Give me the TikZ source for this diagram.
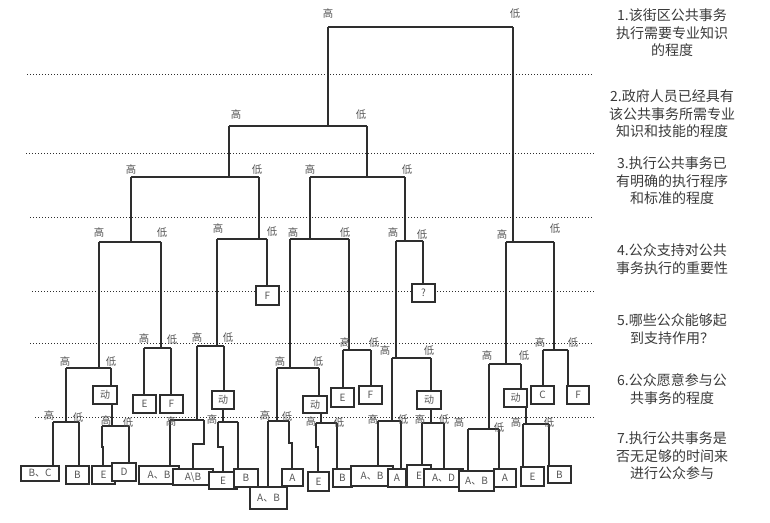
\documentclass[tikz,border=0pt]{standalone}
\usepackage{fontspec}
\setmainfont{Noto Sans CJK SC}
\usetikzlibrary{calc}
\definecolor{ink}{HTML}{2E2E2E}
\definecolor{txt}{HTML}{555555}
\definecolor{crt}{HTML}{3A3A3A}
\tikzset{
 ln/.style={draw=ink, line width=0.85pt},
 dots/.style={draw=ink, line width=0.75pt, dash pattern=on 0.75pt off 1.5pt},
 lab/.style={text=txt, font=\fontsize{7.8pt}{8pt}\selectfont, inner sep=0pt},
 bx/.style={draw=ink, line width=1pt, fill=white, inner sep=0pt, text=txt, font=\fontsize{7.5pt}{8pt}\selectfont},
 crit/.style={text=crt, font=\fontsize{10.5pt}{13.2pt}\selectfont, align=center, inner sep=0pt},
}
\newcommand\mybox[6]{\node[bx,minimum width={(#4-#2)*0.75pt},minimum height={(#5-#3)*0.75pt}] (#1) at ({(#2+#4)/2},{(#3+#5)/2}) {#6};}
\newcommand\mylab[4]{\node[lab] (#1) at (#2,#3) {#4};}
\begin{document}
\begin{tikzpicture}[x=0.75pt,y=-0.75pt]
\useasboundingbox (0,0) rectangle (770,522);
% dotted separators
\foreach \n/\xa/\yy in {1/27/74,2/26/153,3/30/217,4/32/291,5/30/343,6/35/417}{
  \coordinate (dl\n) at (\xa,\yy); \coordinate (dr\n) at (594,\yy);
  \draw[dots] (dl\n) -- (dr\n);}
% right-hand criteria
\node[crit] (t1) at (672,33) {1.该街区公共事务\\执行需要专业知识\\的程度};
\node[crit] (t2) at (672,114) {2.政府人员已经具有\\该公共事务所需专业\\知识和技能的程度};
\node[crit] (t3) at (672,181) {3.执行公共事务已\\有明确的执行程序\\和标准的程度};
\node[crit] (t4) at (672,259) {4.公众支持对公共\\事务执行的重要性};
\node[crit] (t5) at (672,329) {5.哪些公众能够起\\到支持作用？};
\node[crit] (t6) at (672,389) {6.公众愿意参与公\\共事务的程度};
\node[crit] (t7) at (672,456) {7.执行公共事务是\\否无足够的时间来\\进行公众参与};
% junction bars
\coordinate (S1-L) at (328,27); \coordinate (S1-R) at (513,27);
\coordinate (S2-L) at (229,126); \coordinate (S2-R) at (367,126);
\coordinate (S3a-L) at (131,177); \coordinate (S3a-R) at (259,177);
\coordinate (S3b-L) at (310,177); \coordinate (S3b-R) at (405,177);
\coordinate (S4a-L) at (99,242); \coordinate (S4a-R) at (161,242);
\coordinate (S4b-L) at (217,239); \coordinate (S4b-R) at (267,239);
\coordinate (S4c-L) at (290,239); \coordinate (S4c-R) at (349,239);
\coordinate (S4d-L) at (396,241); \coordinate (S4d-R) at (423,241);
\coordinate (S4e-L) at (506,242); \coordinate (S4e-R) at (554,242);
\coordinate (S5a-L) at (66,368); \coordinate (S5a-R) at (111,368);
\coordinate (S5b-L) at (144,348); \coordinate (S5b-R) at (171,348);
\coordinate (S5c-L) at (197,346); \coordinate (S5c-R) at (224,346);
\coordinate (S5d-L) at (277,368); \coordinate (S5d-R) at (319,368);
\coordinate (S5e-L) at (343,350); \coordinate (S5e-R) at (371,350);
\coordinate (S5f-L) at (392,358); \coordinate (S5f-R) at (431,358);
\coordinate (S5g-L) at (489,364); \coordinate (S5g-R) at (521,364);
\coordinate (S5h-L) at (543,350); \coordinate (S5h-R) at (568,350);
\coordinate (S6a-L) at (53,422); \coordinate (S6a-R) at (79,422);
\coordinate (S6b-L) at (102,426); \coordinate (S6b-R) at (129,426); \coordinate (S6b-T) at (112,426);
\coordinate (S6c-L) at (170,420); \coordinate (S6c-R) at (204,420);
\coordinate (S6d-L) at (218,422); \coordinate (S6d-R) at (238,422); \coordinate (S6d-T) at (223,422);
\coordinate (S6e-L) at (268,421); \coordinate (S6e-R) at (289,421);
\coordinate (S6f-L) at (316,423); \coordinate (S6f-R) at (337,423); \coordinate (S6f-T) at (321,423);
\coordinate (S6g-L) at (378,421); \coordinate (S6g-R) at (401,421);
\coordinate (S6h-L) at (422,423); \coordinate (S6h-R) at (444,423); \coordinate (S6h-T) at (431,423);
\coordinate (S6i-L) at (468,429); \coordinate (S6i-R) at (499,429);
\coordinate (S6j-L) at (523,424); \coordinate (S6j-R) at (549,424); \coordinate (S6j-T) at (526,424);
\foreach \s in {S1,S2,S3a,S3b,S4a,S4b,S4c,S4d,S4e,S5a,S5b,S5c,S5d,S5e,S5f,S5g,S5h,S6a,S6b,S6c,S6d,S6e,S6f,S6g,S6h,S6i,S6j}
  {\draw[ln] (\s-L) -- (\s-R);}
% boxes
\mybox{bF1}{256}{286}{279}{305}{F}
\mybox{bQ}{412}{284}{435}{302}{?}
\mybox{bM1}{93}{386}{117}{404}{动}
\mybox{bE1}{133}{395}{156}{413}{E}
\mybox{bF2}{160}{395}{183}{413}{F}
\mybox{bM2}{212}{391}{234}{409}{动}
\mybox{bM3}{303}{396}{327}{413}{动}
\mybox{bE7}{331}{388}{354}{407}{E}
\mybox{bF3}{359}{386}{382}{404}{F}
\mybox{bM4}{417}{391}{441}{409}{动}
\mybox{bM5}{504}{389}{527}{407}{动}
\mybox{bC}{531}{386}{554}{404}{C}
\mybox{bF4}{567}{386}{589}{404}{F}
\mybox{bBC}{21}{466}{59}{481}{B、C}
\mybox{bB1}{66}{466}{89}{484}{B}
\mybox{bE2}{92}{466}{115}{484}{E}
\mybox{bD}{112}{463}{136}{481}{D}
\mybox{bAB1}{139}{466}{179}{484}{A、B}
\mybox{bAnB}{173}{469}{213}{485}{A\textbackslash B}
\mybox{bE3}{209}{472}{237}{489}{E}
\mybox{bB2}{234}{469}{258}{487}{B}
\mybox{bAB2}{250}{487}{287}{509}{A、B}
\mybox{bA1}{282}{469}{303}{486}{A}
\mybox{bE4}{308}{472}{329}{491}{E}
\mybox{bB3}{333}{469}{352}{487}{B}
\mybox{bAB3}{351}{466}{393}{486}{A、B}
\mybox{bA2}{388}{469}{406}{487}{A}
\mybox{bE5}{407}{465}{431}{487}{E}
\mybox{bAD}{424}{469}{463}{487}{A、D}
\mybox{bAB4}{459}{471}{494}{491}{A、B}
\mybox{bA3}{494}{469}{516}{487}{A}
\mybox{bE6}{521}{467}{544}{486}{E}
\mybox{bB4}{548}{466}{571}{483}{B}
% verticals
\draw[ln] (S1-L) -- (S1-L |- S2-L);
\draw[ln] (S1-R) -- (S1-R |- S4e-L);
\draw[ln] (S2-L) -- (S2-L |- S3a-L);
\draw[ln] (S2-R) -- (S2-R |- S3b-L);
\draw[ln] (S3a-L) -- (S3a-L |- S4a-L);
\draw[ln] (S3a-R) -- (S3a-R |- S4b-L);
\draw[ln] (S3b-L) -- (S3b-L |- S4c-L);
\draw[ln] (S3b-R) -- (S3b-R |- S4d-L);
\draw[ln] (S4a-L) -- (S4a-L |- S5a-L);
\draw[ln] (S4a-R) -- (S4a-R |- S5b-L);
\draw[ln] (S4b-L) -- (S4b-L |- S5c-L);
\draw[ln] (S4b-R) -- (S4b-R |- bF1.north);
\draw[ln] (S4c-L) -- (S4c-L |- S5d-L);
\draw[ln] (S4c-R) -- (S4c-R |- S5e-L);
\draw[ln] (S4d-L) -- (S4d-L |- S5f-L);
\draw[ln] (S4d-R) -- (S4d-R |- bQ.north);
\draw[ln] (S4e-L) -- (S4e-L |- S5g-L);
\draw[ln] (S4e-R) -- (S4e-R |- S5h-L);
\draw[ln] (S5a-L) -- (S5a-L |- S6a-L);
\draw[ln] (S5a-R) -- (S5a-R |- bM1.north);
\draw[ln] (S6b-T |- bM1.south) -- (S6b-T);
\draw[ln] (S5b-L) -- (S5b-L |- bE1.north);
\draw[ln] (S5b-R) -- (S5b-R |- bF2.north);
\draw[ln] (S5c-L) -- (S5c-L |- S6c-L);
\draw[ln] (S5c-R) -- (S5c-R |- bM2.north);
\draw[ln] (S6d-T |- bM2.south) -- (S6d-T);
\draw[ln] (S5d-L) -- (S5d-L |- S6e-L);
\draw[ln] (S5d-R) -- (S5d-R |- bM3.north);
\draw[ln] (S6f-T |- bM3.south) -- (S6f-T);
\draw[ln] (S5e-L) -- (S5e-L |- bE7.north);
\draw[ln] (S5e-R) -- (S5e-R |- bF3.north);
\draw[ln] (S5f-L) -- (S5f-L |- S6g-L);
\draw[ln] (S5f-R) -- (S5f-R |- bM4.north);
\draw[ln] (S6h-T |- bM4.south) -- (S6h-T);
\draw[ln] (S5g-L) -- (S5g-L |- S6i-L);
\draw[ln] (S5g-R) -- (S5g-R |- bM5.north);
\draw[ln] (S6j-T |- bM5.south) -- (S6j-T);
\draw[ln] (S5h-L) -- (S5h-L |- bC.north);
\draw[ln] (S5h-R) -- (S5h-R |- bF4.north);
% level 7 leaves
\draw[ln] (S6a-L) -- (S6a-L |- bBC.north);
\draw[ln] (S6a-R) -- (S6a-R |- bB1.north);
\draw[ln] (S6b-L) -- (S6b-L |- 0,447) -- (103,447) -- (bE2.north -| 103,447);
\draw[ln] (S6b-R) -- (S6b-R |- bD.north);
\draw[ln] (S6c-L) -- (S6c-L |- bAB1.north);
\draw[ln] (S6c-R) -- (S6c-R |- 0,444) -- (193,444) -- (bAnB.north -| 193,444);
\draw[ln] (S6d-L) -- (S6d-L |- 0,447) -- (223,447) -- (bE3.north -| 223,447);
\draw[ln] (S6d-R) -- (S6d-R |- bB2.north);
\draw[ln] (S6e-L) -- (S6e-L |- bAB2.north);
\draw[ln] (S6e-R) -- (S6e-R |- 0,443) -- (292,443) -- (bA1.north -| 292,443);
\draw[ln] (S6f-L) -- (S6f-L |- 0,447) -- (318,447) -- (bE4.north -| 318,447);
\draw[ln] (S6f-R) -- (S6f-R |- bB3.north);
\draw[ln] (S6g-L) -- (S6g-L |- bAB3.north);
\draw[ln] (S6g-R) -- (S6g-R |- bA2.north);
\draw[ln] (S6h-L) -- (S6h-L |- bE5.north);
\draw[ln] (S6h-R) -- (S6h-R |- bAD.north);
\draw[ln] (S6i-L) -- (S6i-L |- bAB4.north);
\draw[ln] (S6i-R) -- (S6i-R |- bA3.north);
\draw[ln] (S6j-L) -- (S6j-L |- bE6.north);
\draw[ln] (S6j-R) -- (S6j-R |- bB4.north);
% labels
\mylab{h1}{328}{14}{高} \mylab{l1}{515}{14}{低}
\mylab{h2}{236}{115}{高} \mylab{l2}{361}{115}{低}
\mylab{h3a}{131}{170}{高} \mylab{l3a}{257}{170}{低}
\mylab{h3b}{310}{170}{高} \mylab{l3b}{407}{170}{低}
\mylab{h4a}{99}{233}{高} \mylab{l4a}{162}{233}{低}
\mylab{h4b}{218}{229}{高} \mylab{l4b}{272}{232}{低}
\mylab{h4c}{293}{233}{高} \mylab{l4c}{345}{233}{低}
\mylab{h4d}{393}{233}{高} \mylab{l4d}{422}{235}{低}
\mylab{h4e}{502}{235}{高} \mylab{l4e}{555}{229}{低}
\mylab{h5a}{65}{362}{高} \mylab{l5a}{111}{362}{低}
\mylab{h5b}{144}{339}{高} \mylab{l5b}{172}{340}{低}
\mylab{h5c}{197}{338}{高} \mylab{l5c}{228}{338}{低}
\mylab{h5d}{280}{362}{高} \mylab{l5d}{318}{362}{低}
\mylab{h5e}{345}{343}{高} \mylab{l5e}{374}{343}{低}
\mylab{h5f}{385}{351}{高} \mylab{l5f}{429}{351}{低}
\mylab{h5g}{487}{356}{高} \mylab{l5g}{524}{356}{低}
\mylab{h5h}{540}{343}{高} \mylab{l5h}{573}{343}{低}
\mylab{h6a}{49}{416}{高} \mylab{l6a}{78}{418}{低}
\mylab{h6b}{106}{421}{高} \mylab{l6b}{128}{423}{低}
\mylab{h6c}{171}{422}{高}
\mylab{h6d}{212}{420}{高}
\mylab{h6e}{265}{416}{高} \mylab{l6e}{287}{417}{低}
\mylab{h6f}{311}{422}{高} \mylab{l6f}{339}{423}{低}
\mylab{h6g}{373}{420}{高} \mylab{l6g}{403}{420}{低}
\mylab{h6h}{420}{420}{高} \mylab{l6h}{444}{420}{低}
\mylab{h6i}{459}{423}{高} \mylab{l6i}{499}{428}{低}
\mylab{h6j}{516}{423}{高} \mylab{l6j}{549}{423}{低}
\end{tikzpicture}
\end{document}
